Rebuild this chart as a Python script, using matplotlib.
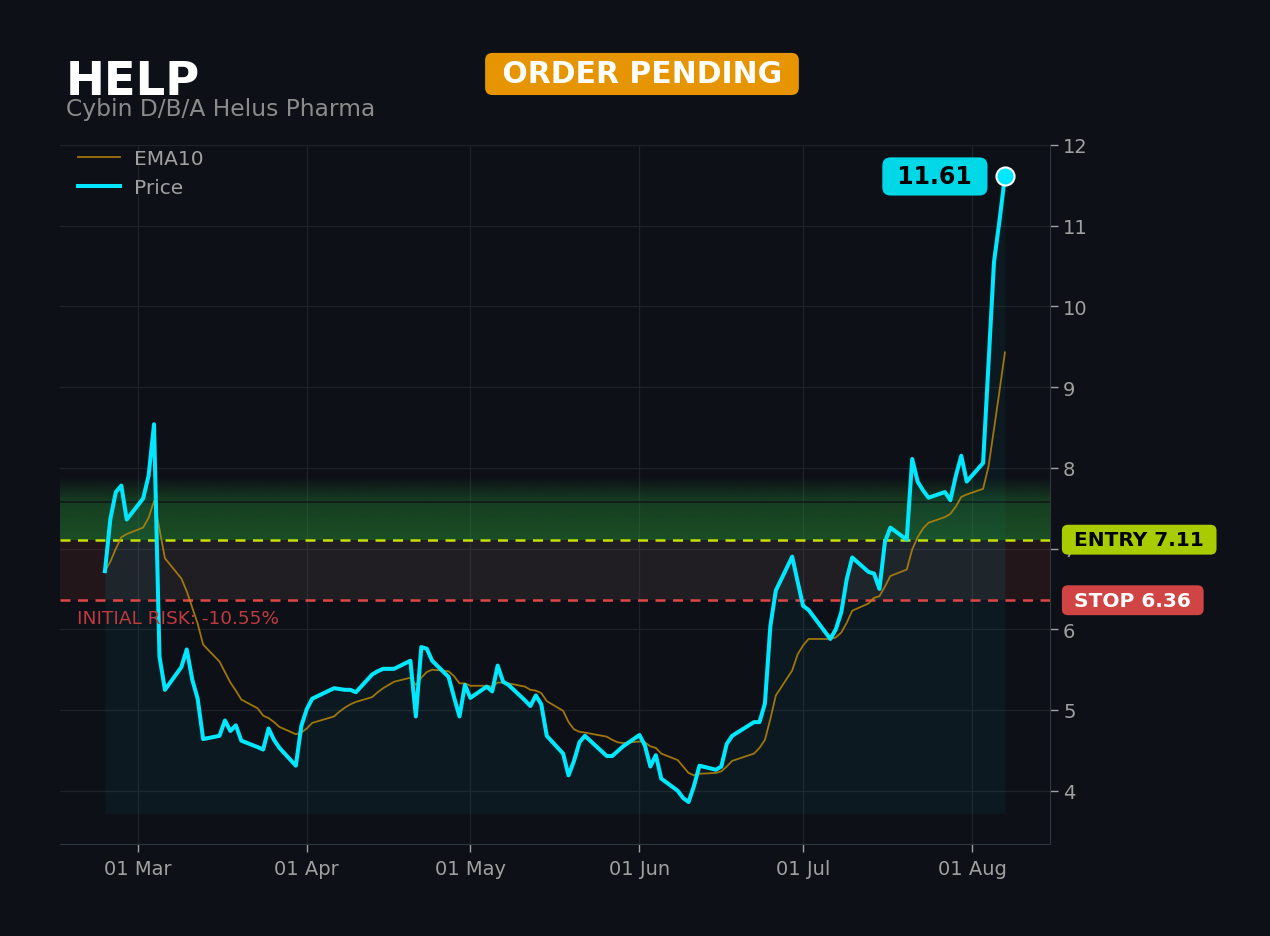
import numpy as np
import pandas as pd
import matplotlib
matplotlib.use("Agg")
import matplotlib.pyplot as plt
import matplotlib.dates as mdates
from matplotlib.transforms import blended_transform_factory

# Chart data
ticker = "HELP"
company = "Cybin D/B/A Helus Pharma"
status = "ORDER PENDING"
entry = 7.11
stop = 6.36
holidays = ["2026-04-03", "2026-05-25", "2026-06-19", "2026-07-03"]
dates = pd.bdate_range("2026-02-23", "2026-08-07")
dates = dates[~dates.isin(pd.to_datetime(holidays))]

price = [
    6.72, 7.37, 7.70, 7.78, 7.36,
    7.62, 7.90, 8.54, 5.66, 5.25, 5.53, 5.75, 5.38, 5.14, 4.64,
    4.68, 4.87, 4.74, 4.81, 4.62, 4.54, 4.51, 4.77, 4.63, 4.53,
    4.31, 4.80,
    5.01, 5.14, 5.27, 5.26, 5.25, 5.25, 5.22, 5.44, 5.48, 5.51,
    5.51, 5.51, 5.61, 4.92, 5.78, 5.76, 5.61, 5.41, 5.16, 4.92, 5.31,
    5.15, 5.29, 5.23, 5.55, 5.35, 5.31, 5.12, 5.05, 5.18, 5.07,
    4.68, 4.46, 4.19, 4.37, 4.60, 4.68, 4.43, 4.43, 4.49, 4.55,
    4.69, 4.56, 4.30, 4.44, 4.15, 4.00, 3.91, 3.86, 4.06, 4.31,
    4.26, 4.30, 4.58, 4.68, 4.85, 4.85, 5.08, 6.04, 6.48, 6.90, 6.59,
    6.29, 6.24, 5.88, 6.00, 6.21, 6.62, 6.89, 6.71, 6.69, 6.50,
    7.08, 7.26, 7.11, 8.11, 7.83, 7.72, 7.63, 7.70, 7.60, 7.90,
    8.15, 7.83,
    8.06, 9.30, 10.55, 11.06, 11.61,
]
ema10 = [
    6.72, 6.84, 7.00, 7.14, 7.18,
    7.26, 7.38, 7.59, 7.24, 6.88, 6.63, 6.47, 6.27, 6.07, 5.81,
    5.60, 5.47, 5.34, 5.24, 5.13, 5.02, 4.93, 4.90, 4.85, 4.79,
    4.70, 4.72,
    4.77, 4.84, 4.92, 4.98, 5.03, 5.07, 5.10, 5.16, 5.22, 5.27,
    5.31, 5.35, 5.40, 5.31, 5.40, 5.47, 5.50, 5.48, 5.42, 5.33, 5.33,
    5.30, 5.30, 5.29, 5.34, 5.34, 5.33, 5.29, 5.25, 5.24, 5.21,
    5.11, 4.99, 4.85, 4.76, 4.73, 4.72, 4.67, 4.63, 4.60, 4.59,
    4.61, 4.60, 4.55, 4.53, 4.46, 4.38, 4.30, 4.22, 4.19, 4.21,
    4.22, 4.24, 4.30, 4.37, 4.46, 4.53, 4.63, 4.89, 5.18, 5.49, 5.69,
    5.80, 5.88, 5.88, 5.90, 5.96, 6.08, 6.23, 6.32, 6.39, 6.41,
    6.53, 6.66, 6.74, 6.99, 7.14, 7.25, 7.32, 7.39, 7.43, 7.52,
    7.64, 7.67,
    7.74, 8.02, 8.48, 8.95, 9.43,
]

BG = "#0d1117"
CYAN = "#00e8ff"
GOLD = "#b8860b"
LIME = "#c4e000"
RED = "#e04646"
GRAY = "#a0a0a0"

fill_base = 3.72
green_top = 7.88
zone_line = 7.58

fig = plt.figure(figsize=(12.7, 9.37), dpi=100, facecolor=BG)
ax = fig.add_axes([0.0472, 0.0982, 0.7795, 0.746])
ax.set_facecolor(BG)

# risk zone between stop and entry
ax.axhspan(stop, entry, color=RED, alpha=0.1, lw=0, zorder=1)
ax.fill_between(dates, stop, entry, color=CYAN, alpha=0.04, lw=0, zorder=1)

# area under price
ax.fill_between(dates, price, fill_base, color=CYAN, alpha=0.04, lw=0, zorder=2)

ax.plot(dates, ema10, color=GOLD, lw=1.3, alpha=0.85, label="EMA10", zorder=4)
ax.plot(dates, price, color=CYAN, lw=2.9, label="Price", zorder=5)
ax.plot(dates[-1], price[-1], "o", ms=13, color=CYAN, mec="white", mew=1.5, zorder=6)

xl = ax.get_xlim()

# green gradient above entry
ys = np.linspace(entry, green_top, 200)
alpha = np.interp(ys, [entry, zone_line, green_top], [0.45, 0.32, 0.0])
grad = np.zeros((len(ys), 1, 4))
grad[..., 0] = 44 / 255
grad[..., 1] = 155 / 255
grad[..., 2] = 54 / 255
grad[:, 0, 3] = alpha
ax.imshow(grad, extent=[xl[0], xl[1], entry, green_top], origin="lower",
          aspect="auto", interpolation="bilinear", zorder=1)
ax.axhline(zone_line, color="#0d1117", lw=1.2, alpha=0.8, zorder=1)

ax.axhline(entry, color=LIME, lw=1.8, ls=(0, (4, 3)), zorder=3)
ax.axhline(stop, color=RED, lw=1.8, ls=(0, (4, 3)), zorder=3)

ax.set_xlim(xl)
ax.set_ylim(3.34, 12.0)

ax.grid(True, color="#1e232a", lw=0.9)
ax.set_axisbelow(True)
ax.yaxis.tick_right()
ax.set_yticks(range(4, 13))
ax.xaxis.set_major_locator(mdates.MonthLocator())
ax.xaxis.set_major_formatter(mdates.DateFormatter("%d %b"))
ax.tick_params(colors=GRAY, labelsize=14, length=6, width=1)
ax.tick_params(axis="x", pad=5)
for side in ["top", "left"]:
    ax.spines[side].set_visible(False)
for side in ["right", "bottom"]:
    ax.spines[side].set_color("#30363d")

leg = ax.legend(loc="upper left", bbox_to_anchor=(0.01, 1.006), frameon=False,
                fontsize=14.5, borderaxespad=0, handlelength=2.1,
                handletextpad=0.7, labelspacing=0.5)
for t in leg.get_texts():
    t.set_color(GRAY)

# labels at the right edge
tr = blended_transform_factory(ax.transAxes, ax.transData)
ax.text(1.0176, entry, f" ENTRY {entry:.2f} ", transform=tr, ha="left", va="center",
        fontsize=14.5, fontweight="bold", color="black", zorder=7,
        bbox=dict(boxstyle="round,pad=0.27,rounding_size=0.3", fc="#a8cc00", ec="none"))
ax.text(1.0176, stop, f" STOP {stop:.2f} ", transform=tr, ha="left", va="center",
        fontsize=14.5, fontweight="bold", color="white", zorder=7,
        bbox=dict(boxstyle="round,pad=0.27,rounding_size=0.3", fc="#d04444", ec="none"))

risk = (stop - entry) / entry * 100
ax.text(0.017, 6.14, f"INITIAL RISK: {risk:.2f}%", transform=tr, ha="left",
        va="center", fontsize=13.3, color="#c0393f", zorder=7)

ax.annotate(f" {price[-1]:.2f} ", xy=(dates[-1], price[-1]), xytext=(-70, 0),
            textcoords="offset pixels", ha="center", va="center",
            fontsize=17, fontweight="bold", color="black", zorder=8,
            bbox=dict(boxstyle="round,pad=0.3,rounding_size=0.35", fc="#00d8e8", ec="none"))

# header
fig.text(0.052, 0.8986, ticker, fontsize=33.5, fontweight="bold", color="white",
         ha="left", va="baseline")
fig.text(0.052, 0.876, company, fontsize=16.8, color="#8b8b8b", ha="left", va="baseline")
fig.text(0.5055, 0.9200, f" {status} ", fontsize=21.5, fontweight="bold", color="white",
         ha="center", va="center",
         bbox=dict(boxstyle="round,pad=0.22,rounding_size=0.25", fc="#e69500", ec="none"))

fig.savefig("out.png", dpi=100, facecolor=BG)
